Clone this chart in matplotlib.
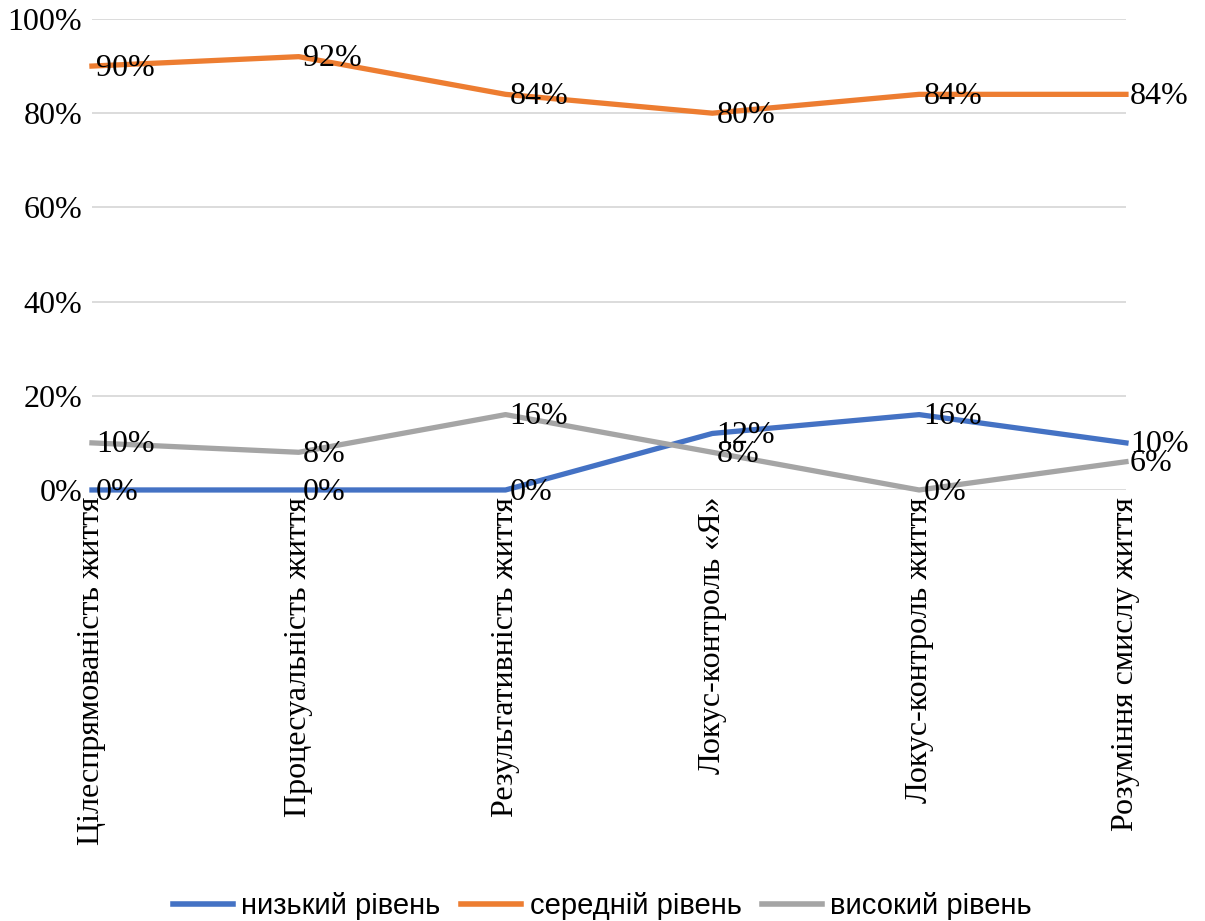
import matplotlib
matplotlib.use('Agg')
import matplotlib.pyplot as plt
from matplotlib.ticker import PercentFormatter

plt.rcParams['font.family'] = ['Liberation Serif', 'DejaVu Serif']

categories = [
    'Цілеспрямованість життя',
    'Процесуальність життя',
    'Результативність життя',
    'Локус-контроль «Я»',
    'Локус-контроль життя',
    'Розуміння смислу життя',
]
low = [0, 0, 0, 12, 16, 10]
mid = [90, 92, 84, 80, 84, 84]
high = [10, 8, 16, 8, 0, 6]

series = [
    ('низький рівень', low, '#4472C4'),
    ('середній рівень', mid, '#ED7D31'),
    ('високий рівень', high, '#A5A5A5'),
]

fig = plt.figure(figsize=(12.05, 9.21), dpi=100)
ax = fig.add_axes([0.0763, 0.468, 0.8581, 0.5114])

x = list(range(len(categories)))
for name, vals, color in series:
    ax.plot(x, vals, color=color, lw=3.8, label=name, zorder=3, clip_on=False)
    for xi, v in zip(x, vals):
        ax.annotate(f'{v}%', (xi, v), xytext=(3, -1.5), textcoords='offset points',
                    ha='left', va='center', fontsize=23, zorder=5)

ax.set_xlim(0, len(categories) - 1)
ax.set_ylim(0, 100)
ax.set_yticks(range(0, 101, 20))
ax.yaxis.set_major_formatter(PercentFormatter(decimals=0))
ax.grid(axis='y', color='#D9D9D9', lw=1.3)
ax.set_axisbelow(True)
for s in ax.spines.values():
    s.set_visible(False)
ax.tick_params(axis='both', length=0, labelsize=23)
ax.tick_params(axis='y', pad=7)
ax.set_xticks(x)
ax.set_xticklabels(categories, rotation=90, va='top', ha='center')
ax.tick_params(axis='x', pad=5)

leg = fig.legend(loc='center', bbox_to_anchor=(0.5, 0.016), ncol=3, frameon=False,
                 handlelength=2.05, columnspacing=0.7, handletextpad=0.3,
                 prop={'family': ['Liberation Sans Narrow', 'Liberation Sans'], 'size': 21})
for h in leg.get_lines():
    h.set_linewidth(4)

fig.savefig('out.png', dpi=100)
